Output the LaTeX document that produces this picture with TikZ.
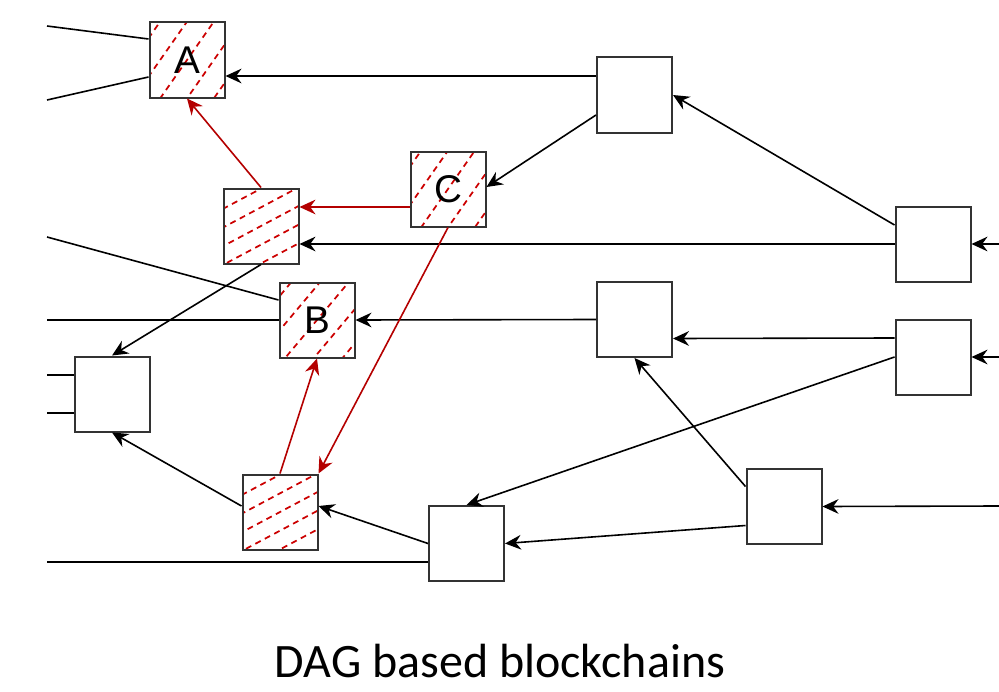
\documentclass[tikz,border=0pt]{standalone}
\usepackage{fontspec}
\setmainfont{Carlito}
\newfontfamily\labelfont{Liberation Sans}
\usepackage{xcolor}
\definecolor{blockgray}{RGB}{51, 51, 51}
\definecolor{refred}{RGB}{180, 0, 0}
\definecolor{hatchred}{RGB}{204, 0, 0}
\usepackage{tikz}
\usetikzlibrary{arrows.meta, calc}

\begin{document}
\begin{tikzpicture}[x=0.75pt, y=-0.75pt, >={Stealth[length=12pt, width=11pt, inset=4pt]},
    block/.style={draw=blockgray, line width=1.5pt, fill=white, minimum size=56.25pt, inner sep=0pt,
        font=\labelfont\fontsize{29}{30}\selectfont},
    hatchline/.style={draw=hatchred, line width=1.3pt, dash pattern=on 4.5pt off 3.5pt},
    hatched/.style 2 args={block, path picture={
        \coordinate (hc) at (path picture bounding box.center);
        \foreach \k in {-7,...,7}
            \draw[hatchline] ($(hc)+({\k*#2*sin(#1)-90*cos(#1)},{\k*#2*cos(#1)+90*sin(#1)})$)
                -- ($(hc)+({\k*#2*sin(#1)+90*cos(#1)},{\k*#2*cos(#1)-90*sin(#1)})$);}},
    link/.style={black, line width=1.2pt},
    reflink/.style={refred, line width=1.2pt}]
    \useasboundingbox (0,0) rectangle (999,692);

    % blocks
    \node[hatched={55}{22}] (A) at (187,60) {A};
    \node[hatched={28}{16.5}] (D) at (261,226) {};
    \node[hatched={55}{22}] (C) at (448,189) {C};
    \node[hatched={50}{22}] (B) at (317,320) {B};
    \node[hatched={28}{16.5}] (E) at (280,512) {};
    \node[block] (P1) at (112,394) {};
    \node[block] (P2) at (634.5,95) {};
    \node[block] (P3) at (933,244) {};
    \node[block] (P4) at (634.5,319.5) {};
    \node[block] (P5) at (933,357) {};
    \node[block] (P6) at (784,506.5) {};
    \node[block] (P7) at (466.5,543.5) {};

    % open ends
    \coordinate (inA1) at (47,26);
    \coordinate (inA2) at (47,100);
    \coordinate (inB1) at (47,237);
    \coordinate (inB2) at (47,320);
    \coordinate (inP1a) at (47,375);
    \coordinate (inP1b) at (47,413);
    \coordinate (inP7) at (47,562);
    \coordinate (inP3) at (999,244);
    \coordinate (inP5) at (999,357);
    \coordinate (inP6) at (999,506);

    \draw[link] (inA1) -- ($(A.west)+(0,-21)$);
    \draw[link] (inA2) -- ($(A.west)+(0,17)$);
    \draw[link] (inB1) -- ($(B.west)+(0,-20)$);
    \draw[link] (inB2) -- (B.west);
    \draw[link] (inP1a) -- (inP1a -| P1.west);
    \draw[link] (inP1b) -- (inP1b -| P1.west);
    \draw[link] (inP7) -- (inP7 -| P7.west);
    \draw[link, ->] (inP3) -- (P3.east);
    \draw[link, ->] (inP5) -- (P5.east);
    \draw[link, ->] (inP6) -- (P6.east);

    % references
    \draw[link, ->] ($(P2.west)+(0,-19)$) -- ($(A.east)+(0,16)$);
    \draw[link, ->] ($(P2.west)+(0,20)$) -- ($(C.east)+(0,-2)$);
    \draw[link, ->] ($(P3.west)+(0,-19)$) -- (P2.east);
    \draw[link, ->] (P3.west) -- (D.east |- P3.west);
    \draw[link, ->] (P4.west) -- (B.east);
    \draw[link, ->] (D.south) -- (P1.north);
    \draw[link, ->] ($(P5.west)+(0,-19)$) -- ($(P4.east)+(0,19)$);
    \draw[link, ->] (P5.west) -- (P7.north);
    \draw[link, ->] ($(P6.west)+(0,-20)$) -- (P4.south);
    \draw[link, ->] ($(P6.west)+(0,19)$) -- (P7.east);
    \draw[link, ->] (P7.west) -- ($(E.east)+(0,-6)$);
    \draw[link, ->] ($(E.west)+(0,-6)$) -- (P1.south);

    \draw[reflink, ->] ($(C.west)+(0,18)$) -- ($(D.east)+(0,-19)$);
    \draw[reflink, ->] (D.north) -- (A.south);
    \draw[reflink, ->] (C.south) -- (E.north east);
    \draw[reflink, ->] (E.north) -- (B.south);

    \node[font=\fontsize{36}{42}\selectfont, anchor=base] (caption) at (500,677) {DAG based blockchains};
\end{tikzpicture}
\end{document}
